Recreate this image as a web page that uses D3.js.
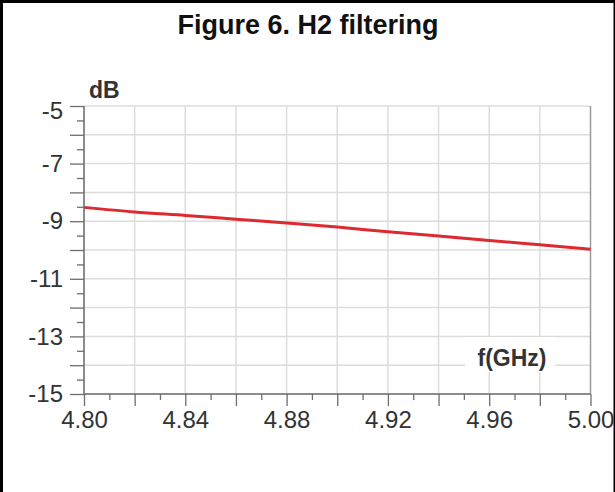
<!DOCTYPE html>
<html><head><meta charset="utf-8">
<script src="https://cdn.jsdelivr.net/npm/d3@7"></script>
<style>
html,body{margin:0;padding:0;background:#fff;}
svg{display:block;font-family:"Liberation Sans",Arial,sans-serif;}
</style></head>
<body>
<script>
// Data
const title = "Figure 6. H2 filtering";
const freqGHz = [4.80, 4.82, 4.84, 4.86, 4.88, 4.90, 4.92, 4.94, 4.96, 4.98, 5.00];
const h2dB   = [-8.52, -8.68, -8.80, -8.93, -9.06, -9.20, -9.37, -9.51, -9.67, -9.82, -9.97];
const xTickLabels = [4.80, 4.84, 4.88, 4.92, 4.96, 5.00];
const yTickLabels = [-5, -7, -9, -11, -13, -15];
const yUnit = "dB";
const xUnit = "f(GHz)";

const W = 615, H = 492;
const svg = d3.select("body").append("svg").attr("width", W).attr("height", H);

// frame (left, top, right borders)
svg.append("rect").attr("x",0).attr("y",0).attr("width",3).attr("height",H).attr("fill","#000");
svg.append("rect").attr("x",0).attr("y",0).attr("width",W).attr("height",3).attr("fill","#000");
svg.append("rect").attr("x",W-1.5).attr("y",0).attr("width",1.5).attr("height",H).attr("fill","#000");

const x = d3.scaleLinear().domain([4.80, 5.00]).range([84, 590.5]);
const y = d3.scaleLinear().domain([-15, -5]).range([394, 106]);

const yInts = d3.range(-15, -4, 1);
const yHalves = d3.range(-14.5, -5, 1);
const xMajor = d3.range(0, 11).map(i => +(4.80 + i*0.02).toFixed(2));
const xMinor = d3.range(0, 10).map(i => +(4.81 + i*0.02).toFixed(2));

// grid
const g = svg.append("g");
g.selectAll("line.hg").data(yInts).join("line")
  .attr("x1", x(4.80)).attr("x2", x(5.00))
  .attr("y1", d => y(d)).attr("y2", d => y(d))
  .attr("stroke", "#dcdcdc").attr("stroke-width", 1.5);
g.selectAll("line.vg").data(xMajor).join("line")
  .attr("x1", d => x(d)).attr("x2", d => x(d))
  .attr("y1", y(-5)).attr("y2", y(-15))
  .attr("stroke", d => d === 5.00 ? "#9a9a9a" : "#dcdcdc").attr("stroke-width", 1.5);

// white box behind x unit
svg.append("rect").attr("x", 465).attr("y", 337).attr("width", 90).attr("height", 35).attr("fill", "#fff");

// data line
svg.append("path").datum(freqGHz.map((f,i)=>[f,h2dB[i]]))
  .attr("fill","none").attr("stroke","#dc2a30").attr("stroke-width",3)
  .attr("d", d3.line().x(d=>x(d[0])).y(d=>y(d[1])).curve(d3.curveMonotoneX));

// axes
const axisColor = "#6e6e6e";
const yAx = svg.append("g").attr("transform", `translate(${x(4.80)},0)`)
  .call(d3.axisLeft(y).tickValues(yInts).tickSize(14).tickPadding(7)
    .tickFormat(d => yTickLabels.includes(d) ? d3.format("d")(d).replace("−","-") : ""));
const yAxMin = svg.append("g").attr("transform", `translate(${x(4.80)},0)`)
  .call(d3.axisLeft(y).tickValues(yHalves).tickSize(7).tickFormat(""));
const xAx = svg.append("g").attr("transform", `translate(0,${y(-15)})`)
  .call(d3.axisBottom(x).tickValues(xMajor).tickSize(12).tickPadding(5)
    .tickFormat(d => xTickLabels.some(v => Math.abs(v-d)<1e-9) ? d3.format(".2f")(d) : ""));
const xAxMin = svg.append("g").attr("transform", `translate(0,${y(-15)})`)
  .call(d3.axisBottom(x).tickValues(xMinor).tickSize(6).tickFormat(""));

[yAx, yAxMin, xAx, xAxMin].forEach(a => {
  a.select(".domain").attr("stroke", axisColor).attr("stroke-width", 1.5);
  a.selectAll(".tick line").attr("stroke", axisColor).attr("stroke-width", 1.3);
  a.selectAll(".tick text").attr("fill", "#333").attr("font-size", 24)
    .attr("font-family", "'Liberation Sans', Arial, sans-serif");
});
yAx.selectAll(".tick text").filter(d => d === -5).attr("dy", "0.52em");
yAx.select(".domain").attr("d", `M0,${y(-15)}V${y(-5)}`);
yAxMin.select(".domain").remove();
xAxMin.select(".domain").remove();
xAx.select(".domain").attr("d", `M${x(4.80)},0H${x(5.00)}`);

// title & units
svg.append("text").attr("x", 308).attr("y", 34).attr("text-anchor","middle")
  .attr("font-size", 27).attr("font-weight","bold").attr("fill","#111").text(title);
svg.append("text").attr("x", 89).attr("y", 98)
  .attr("font-size", 23).attr("font-weight","bold").attr("fill","#333").text(yUnit);
svg.append("text").attr("x", 512).attr("y", 366).attr("text-anchor","middle")
  .attr("font-size", 23).attr("font-weight","bold").attr("fill","#333").text(xUnit);
</script>
</body></html>
